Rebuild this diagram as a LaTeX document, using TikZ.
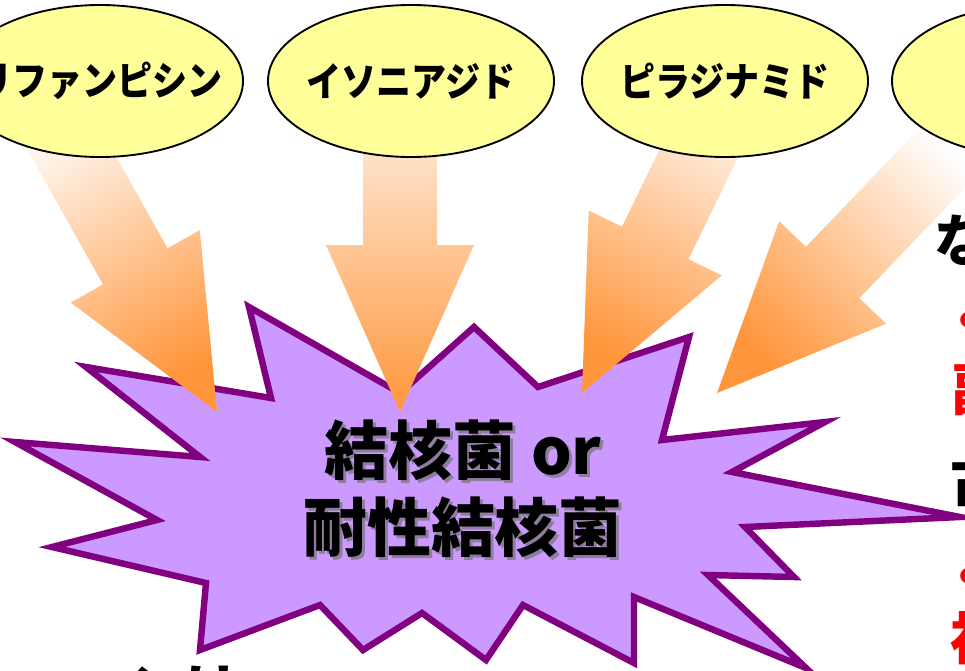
\documentclass[tikz,border=0pt]{standalone}
\usepackage{fontspec}
\usetikzlibrary{shapes.geometric}
\newfontfamily\jp{Noto Sans CJK JP}
\definecolor{elfill}{RGB}{255,255,153}
\definecolor{starfill}{RGB}{204,153,255}
\definecolor{starline}{RGB}{128,0,128}
\definecolor{arrowtip}{RGB}{255,150,60}
\definecolor{alertred}{RGB}{255,0,0}
\newcommand{\drugarrow}[2]{%
  \begin{scope}[shift={(#1)}, rotate=#2]
    \shade[bigarrow, shading angle=#2] (0,0) -- (74,-167) -- (37,-167) -- (37,-360)
      -- (-37,-360) -- (-37,-167) -- (-74,-167) -- cycle;
  \end{scope}}
\begin{document}
\begin{tikzpicture}[x=0.03cm, y=-0.03cm,
  drug/.style={ellipse, draw=black, line width=1.6pt, fill=elfill,
    minimum width=8.58cm, minimum height=4.56cm, inner sep=0pt},
  druglabel/.style={inner sep=0pt,
    font=\jp\bfseries\fontsize{34pt}{34pt}\selectfont},
  burst/.style={draw=starline, fill=starfill, line width=5.5pt, line join=miter},
  bigarrow/.style={top color=white, bottom color=arrowtip, draw=none},
  startext/.style={align=center, inner sep=0pt,
    font=\jp\bfseries\fontsize{54.6pt}{65.7pt}\selectfont},
  sidetext/.style={anchor=west, inner sep=0pt,
    font=\jp\bfseries\fontsize{48pt}{48pt}\selectfont}]
\useasboundingbox (0,0) rectangle (965,670);
\clip (0,0) rectangle (965,670);

% burst shape
\draw[burst] (474,327) -- (538,387) -- (689,337) -- (662,440) -- (825,422)
  -- (732,472) -- (960,517) -- (745,527) -- (794,577) -- (708,575)
  -- (806,668) -- (634,597) -- (634,663) -- (523,605) -- (486,660)
  -- (422,613) -- (363,650) -- (320,605) -- (200,650) -- (206,583)
  -- (52,547) -- (157,520) -- (15,442) -- (200,457) -- (86,367)
  -- (271,398) -- (249,307) -- (400,393) -- cycle;

% arrow tips
\coordinate (t1) at (217,412);
\coordinate (t2) at (400,412);
\coordinate (t3) at (582,393);
\coordinate (t4) at (717,393);
\drugarrow{t1}{29.3}
\drugarrow{t2}{0}
\drugarrow{t3}{-26}
\drugarrow{t4}{-43.8}

% drugs
\node[drug] (e1) at (100,81) {};
\node[drug] (e2) at (411,81) {};
\node[drug] (e3) at (725,81) {};
\node[drug] (e4) at (1035,81) {};
\node[druglabel] (l1) at (e1.center) {\scalebox{0.88}[1]{リファンピシン}};
\node[druglabel] (l2) at (e2.center) {\scalebox{0.88}[1]{イソニアジド}};
\node[druglabel] (l3) at (e3.center) {\scalebox{0.88}[1]{ピラジナミド}};

% burst text
\node[startext, text=black!55, opacity=0.7] (tbs) at (466,492) {結核菌 or\\耐性結核菌};
\node[startext] (tb) at (463,489) {結核菌 or\\耐性結核菌};

% partial texts at the edges
\node[sidetext] (s1) at (934,240) {な};
\node[sidetext, text=alertred] (s2) at (940,327) {・};
\node[sidetext, text=alertred] (s3) at (952,390) {副};
\node[sidetext] (s4) at (950,480) {古};
\node[sidetext, text=alertred] (s5) at (940,583) {・};
\node[sidetext, text=alertred] (s6) at (950,638) {神};
\node[sidetext] (b1) at (128,690) {ンは};
\end{tikzpicture}
\end{document}
